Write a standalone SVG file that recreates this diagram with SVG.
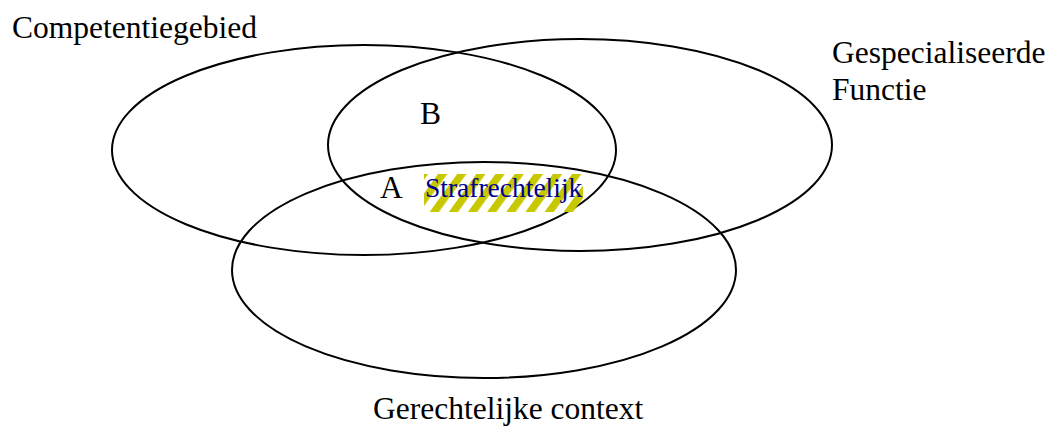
<svg xmlns="http://www.w3.org/2000/svg" width="1047" height="426" viewBox="0 0 1047 426">
  <style>
    .set { fill: none; stroke: #000; stroke-width: 2; }
    .lbl { font-family: "Liberation Serif", "Times New Roman", serif; font-size: 31.5px; fill: #000; }
    .hl { font-family: "Liberation Serif", "Times New Roman", serif; font-size: 27.5px; fill: #000090; }
  </style>
  <defs>
    <pattern id="stripes" patternUnits="userSpaceOnUse" width="15.5" height="20" patternTransform="translate(438,174) rotate(36)">
      <rect x="0" y="0" width="7.5" height="20" fill="#c8c800"/>
    </pattern>
  </defs>
  <rect width="1047" height="426" fill="#fff"/>
  <g id="connectors"/>
  <g id="competentiegebied">
    <ellipse class="set" cx="364" cy="150" rx="252" ry="105"/>
    <text class="lbl" x="12" y="38">Competentiegebied</text>
  </g>
  <g id="gespecialiseerde-functie">
    <ellipse class="set" cx="580" cy="145" rx="252" ry="106"/>
    <text class="lbl" x="832" y="63">Gespecialiseerde</text>
    <text class="lbl" x="832" y="100">Functie</text>
  </g>
  <g id="gerechtelijke-context">
    <ellipse class="set" cx="484" cy="270" rx="252" ry="108"/>
    <text class="lbl" x="373" y="419">Gerechtelijke context</text>
  </g>
  <g id="region-b">
    <text class="lbl" x="420" y="124">B</text>
  </g>
  <g id="region-a">
    <text class="lbl" x="380" y="198">A</text>
  </g>
  <g id="strafrechtelijk">
    <rect x="424" y="174" width="159" height="38" fill="url(#stripes)"/>
    <text class="hl" x="425" y="197">Strafrechtelijk</text>
  </g>
</svg>
